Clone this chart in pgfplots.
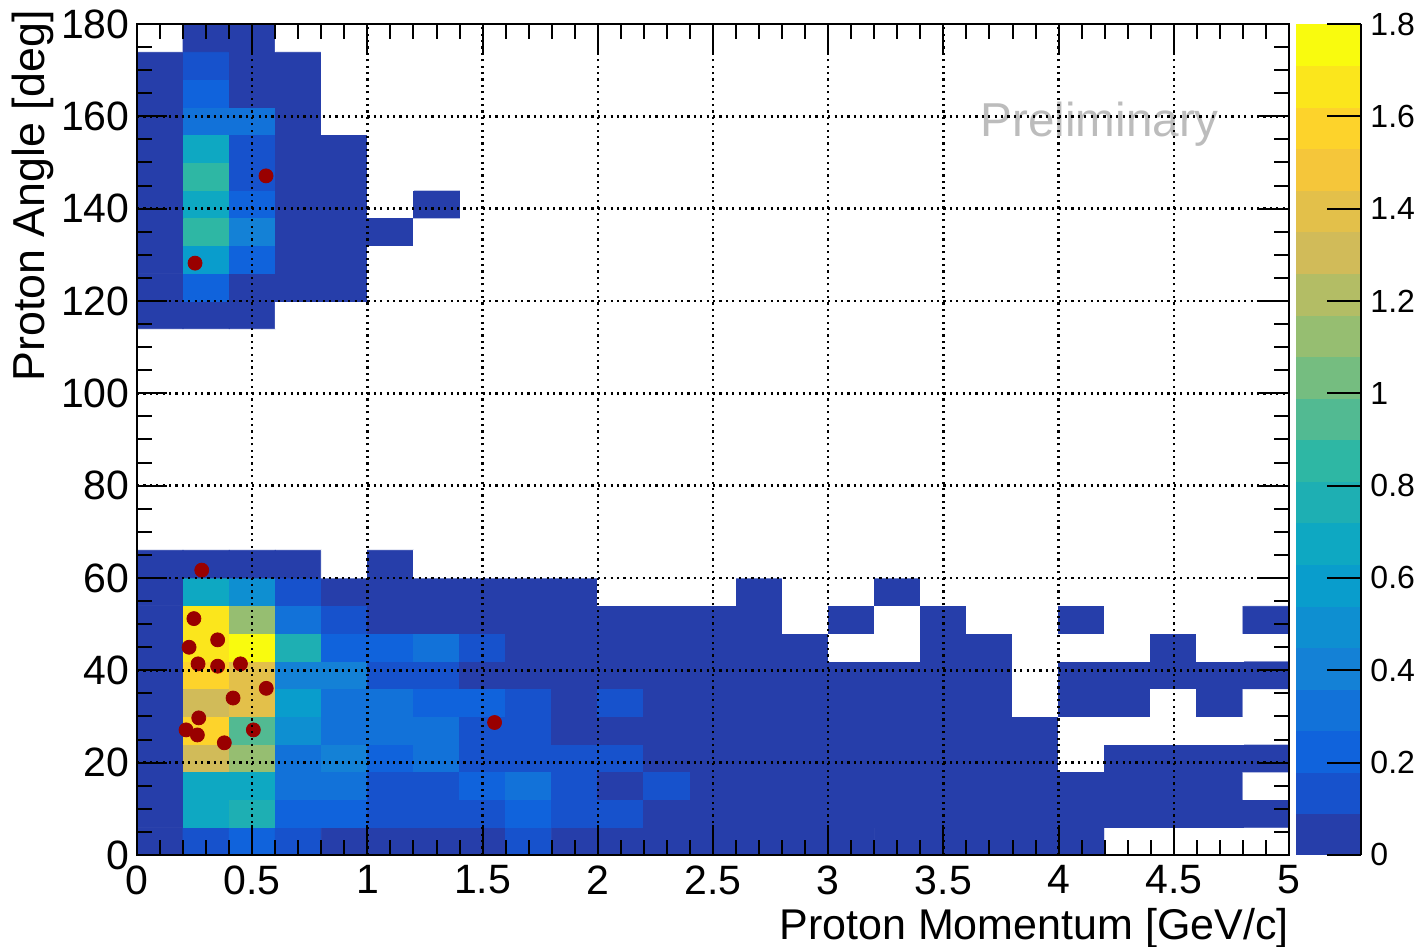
\documentclass[border=0pt]{standalone}
\usepackage{fontspec}
\setmainfont{Liberation Sans}
\usepackage{pgfplots}
\pgfplotsset{compat=1.18}
\definecolor{darkred}{RGB}{153,0,0}
\definecolor{prelim}{RGB}{188,188,188}
\begin{document}
\begin{tikzpicture}
\begin{axis}[
  set layers=axis on top, axis on top,
  scale only axis, width=576pt, height=415.5pt,
  xmin=0, xmax=5, ymin=0, ymax=180,
  xtick={0,0.5,1,1.5,2,2.5,3,3.5,4,4.5,5},
  ytick={0,20,40,60,80,100,120,140,160,180},
  minor x tick num=4, minor y tick num=3,
  tick align=inside, tick pos=both,
  major tick length=15pt, minor tick length=7.5pt,
  every tick/.append style={black, line width=1pt},
  axis line style={line width=1pt},
  grid=major,
  major grid style={black, line width=1.2pt, dash pattern=on 1.1pt off 2.1pt},
  /pgf/number format/assume math mode=true,
  ticklabel style={font=\fontsize{20.5}{24}\selectfont},
  xticklabel style={inner sep=0pt, yshift=-5pt},
  yticklabel style={inner sep=0pt, xshift=-3.5pt},
  xlabel={Proton Momentum [GeV/c]},
  ylabel={Proton Angle [deg]},
  label style={inner sep=0pt},
  xlabel style={font=\fontsize{21.5}{26}\selectfont, at={(axis description cs:1,-0.0638)}, anchor=north east},
  ylabel style={font=\fontsize{22.4}{27}\selectfont, at={(axis description cs:-0.1085,1.0168)}, anchor=north east},
  colormap={birdw}{rgb255(0cm)=(255,255,255) rgb255(1cm)=(38,62,170) rgb255(2cm)=(23,82,204) rgb255(3cm)=(16,99,220) rgb255(4cm)=(18,114,217) rgb255(5cm)=(20,129,214) rgb255(6cm)=(14,143,209) rgb255(7cm)=(9,157,204) rgb255(8cm)=(14,168,194) rgb255(9cm)=(30,175,179) rgb255(10cm)=(46,183,164) rgb255(11cm)=(82,186,146) rgb255(12cm)=(117,189,128) rgb255(13cm)=(150,190,113) rgb255(14cm)=(179,189,101) rgb255(15cm)=(209,187,89) rgb255(16cm)=(227,192,74) rgb255(17cm)=(245,198,58) rgb255(18cm)=(253,211,43) rgb255(19cm)=(251,230,28) rgb255(20cm)=(249,251,14) rgb255(21cm)=(249,251,14)},
  colormap access=piecewise constant,
  point meta min=-0.09, point meta max=1.8,
  colorbar,
  colorbar style={
    at={(parent axis.north east)}, anchor=north west, xshift=-5pt,
    width=32.5pt,
    ymin=0, ymax=1.8,
    ytick={0,0.2,0.4,0.6,0.8,1,1.2,1.4,1.6,1.8},
    minor y tick num=0,
    yticklabel pos=right, ytick pos=right,
    ytick align=inside,
    major tick length=17pt,
    every tick/.append style={black, line width=1pt},
    axis line style={draw=none},
    extra description/.code={\draw[line width=1pt] (rel axis cs:1,0) -- (rel axis cs:1,1);},
    /pgf/number format/assume math mode=true,
    yticklabel style={font=\fontsize{16}{19}\selectfont, inner sep=0pt, xshift=4.5pt, anchor=west},
  },
]
% lower block: 25 x 11 bins
\addplot[matrix plot*, mesh/cols=25, point meta=explicit] table[meta=c] {
x y c
0.1 3 0.05
0.3 3 0.14
0.5 3 0.23
0.7 3 0.14
0.9 3 0.05
1.1 3 0.05
1.3 3 0.05
1.5 3 0.05
1.7 3 0.14
1.9 3 0.05
2.1 3 0.05
2.3 3 0.05
2.5 3 0.05
2.7 3 0.05
2.9 3 0.05
3.1 3 0.05
3.3 3 0.05
3.5 3 0.05
3.7 3 0.05
3.9 3 0.05
4.1 3 0.05
4.3 3 -0.05
4.5 3 -0.05
4.7 3 -0.05
4.9 3 -0.05
0.1 9 0.05
0.3 9 0.68
0.5 9 0.77
0.7 9 0.23
0.9 9 0.23
1.1 9 0.14
1.3 9 0.14
1.5 9 0.14
1.7 9 0.23
1.9 9 0.14
2.1 9 0.14
2.3 9 0.05
2.5 9 0.05
2.7 9 0.05
2.9 9 0.05
3.1 9 0.05
3.3 9 0.05
3.5 9 0.05
3.7 9 0.05
3.9 9 0.05
4.1 9 0.05
4.3 9 0.05
4.5 9 0.05
4.7 9 0.05
4.9 9 0.05
0.1 15 0.05
0.3 15 0.68
0.5 15 0.68
0.7 15 0.32
0.9 15 0.32
1.1 15 0.14
1.3 15 0.14
1.5 15 0.23
1.7 15 0.32
1.9 15 0.14
2.1 15 0.05
2.3 15 0.14
2.5 15 0.05
2.7 15 0.05
2.9 15 0.05
3.1 15 0.05
3.3 15 0.05
3.5 15 0.05
3.7 15 0.05
3.9 15 0.05
4.1 15 0.05
4.3 15 0.05
4.5 15 0.05
4.7 15 0.05
4.9 15 -0.05
0.1 21 0.05
0.3 21 1.31
0.5 21 1.13
0.7 21 0.32
0.9 21 0.41
1.1 21 0.23
1.3 21 0.32
1.5 21 0.14
1.7 21 0.14
1.9 21 0.14
2.1 21 0.14
2.3 21 0.05
2.5 21 0.05
2.7 21 0.05
2.9 21 0.05
3.1 21 0.05
3.3 21 0.05
3.5 21 0.05
3.7 21 0.05
3.9 21 0.05
4.1 21 -0.05
4.3 21 0.05
4.5 21 0.05
4.7 21 0.05
4.9 21 0.05
0.1 27 0.05
0.3 27 1.58
0.5 27 0.95
0.7 27 0.5
0.9 27 0.32
1.1 27 0.32
1.3 27 0.32
1.5 27 0.14
1.7 27 0.14
1.9 27 0.05
2.1 27 0.05
2.3 27 0.05
2.5 27 0.05
2.7 27 0.05
2.9 27 0.05
3.1 27 0.05
3.3 27 0.05
3.5 27 0.05
3.7 27 0.05
3.9 27 0.05
4.1 27 -0.05
4.3 27 -0.05
4.5 27 -0.05
4.7 27 -0.05
4.9 27 -0.05
0.1 33 0.05
0.3 33 1.31
0.5 33 1.4
0.7 33 0.59
0.9 33 0.32
1.1 33 0.32
1.3 33 0.23
1.5 33 0.23
1.7 33 0.14
1.9 33 0.05
2.1 33 0.14
2.3 33 0.05
2.5 33 0.05
2.7 33 0.05
2.9 33 0.05
3.1 33 0.05
3.3 33 0.05
3.5 33 0.05
3.7 33 0.05
3.9 33 -0.05
4.1 33 0.05
4.3 33 0.05
4.5 33 -0.05
4.7 33 0.05
4.9 33 -0.05
0.1 39 0.05
0.3 39 1.58
0.5 39 1.4
0.7 39 0.41
0.9 39 0.41
1.1 39 0.14
1.3 39 0.14
1.5 39 0.05
1.7 39 0.05
1.9 39 0.05
2.1 39 0.05
2.3 39 0.05
2.5 39 0.05
2.7 39 0.05
2.9 39 0.05
3.1 39 0.05
3.3 39 0.05
3.5 39 0.05
3.7 39 0.05
3.9 39 -0.05
4.1 39 0.05
4.3 39 0.05
4.5 39 0.05
4.7 39 0.05
4.9 39 0.05
0.1 45 0.05
0.3 45 1.67
0.5 45 1.76
0.7 45 0.77
0.9 45 0.23
1.1 45 0.23
1.3 45 0.32
1.5 45 0.14
1.7 45 0.05
1.9 45 0.05
2.1 45 0.05
2.3 45 0.05
2.5 45 0.05
2.7 45 0.05
2.9 45 0.05
3.1 45 -0.05
3.3 45 -0.05
3.5 45 0.05
3.7 45 0.05
3.9 45 -0.05
4.1 45 -0.05
4.3 45 -0.05
4.5 45 0.05
4.7 45 -0.05
4.9 45 -0.05
0.1 51 0.05
0.3 51 1.67
0.5 51 1.13
0.7 51 0.32
0.9 51 0.14
1.1 51 0.05
1.3 51 0.05
1.5 51 0.05
1.7 51 0.05
1.9 51 0.05
2.1 51 0.05
2.3 51 0.05
2.5 51 0.05
2.7 51 0.05
2.9 51 -0.05
3.1 51 0.05
3.3 51 -0.05
3.5 51 0.05
3.7 51 -0.05
3.9 51 -0.05
4.1 51 0.05
4.3 51 -0.05
4.5 51 -0.05
4.7 51 -0.05
4.9 51 0.05
0.1 57 0.05
0.3 57 0.68
0.5 57 0.5
0.7 57 0.14
0.9 57 0.05
1.1 57 0.05
1.3 57 0.05
1.5 57 0.05
1.7 57 0.05
1.9 57 0.05
2.1 57 -0.05
2.3 57 -0.05
2.5 57 -0.05
2.7 57 0.05
2.9 57 -0.05
3.1 57 -0.05
3.3 57 0.05
3.5 57 -0.05
3.7 57 -0.05
3.9 57 -0.05
4.1 57 -0.05
4.3 57 -0.05
4.5 57 -0.05
4.7 57 -0.05
4.9 57 -0.05
0.1 63 0.05
0.3 63 0.05
0.5 63 0.05
0.7 63 0.05
0.9 63 -0.05
1.1 63 0.05
1.3 63 -0.05
1.5 63 -0.05
1.7 63 -0.05
1.9 63 -0.05
2.1 63 -0.05
2.3 63 -0.05
2.5 63 -0.05
2.7 63 -0.05
2.9 63 -0.05
3.1 63 -0.05
3.3 63 -0.05
3.5 63 -0.05
3.7 63 -0.05
3.9 63 -0.05
4.1 63 -0.05
4.3 63 -0.05
4.5 63 -0.05
4.7 63 -0.05
4.9 63 -0.05
};
% upper block: 7 x 11 bins
\addplot[matrix plot*, mesh/cols=7, point meta=explicit] table[meta=c] {
x y c
0.1 117 0.05
0.3 117 0.05
0.5 117 0.05
0.7 117 -0.05
0.9 117 -0.05
1.1 117 -0.05
1.3 117 -0.05
0.1 123 0.05
0.3 123 0.23
0.5 123 0.05
0.7 123 0.05
0.9 123 0.05
1.1 123 -0.05
1.3 123 -0.05
0.1 129 0.05
0.3 129 0.59
0.5 129 0.23
0.7 129 0.05
0.9 129 0.05
1.1 129 -0.05
1.3 129 -0.05
0.1 135 0.05
0.3 135 0.86
0.5 135 0.41
0.7 135 0.05
0.9 135 0.05
1.1 135 0.05
1.3 135 -0.05
0.1 141 0.05
0.3 141 0.68
0.5 141 0.23
0.7 141 0.05
0.9 141 0.05
1.1 141 -0.05
1.3 141 0.05
0.1 147 0.05
0.3 147 0.86
0.5 147 0.14
0.7 147 0.05
0.9 147 0.05
1.1 147 -0.05
1.3 147 -0.05
0.1 153 0.05
0.3 153 0.68
0.5 153 0.14
0.7 153 0.05
0.9 153 0.05
1.1 153 -0.05
1.3 153 -0.05
0.1 159 0.05
0.3 159 0.32
0.5 159 0.32
0.7 159 0.05
0.9 159 -0.05
1.1 159 -0.05
1.3 159 -0.05
0.1 165 0.05
0.3 165 0.23
0.5 165 0.05
0.7 165 0.05
0.9 165 -0.05
1.1 165 -0.05
1.3 165 -0.05
0.1 171 0.05
0.3 171 0.14
0.5 171 0.05
0.7 171 0.05
0.9 171 -0.05
1.1 171 -0.05
1.3 171 -0.05
0.1 177 -0.05
0.3 177 0.05
0.5 177 0.05
0.7 177 -0.05
0.9 177 -0.05
1.1 177 -0.05
1.3 177 -0.05
};
\addplot[only marks, mark=*, mark size=3.5pt, color=darkred, mark options={fill=darkred, draw=darkred}, on layer=axis foreground] coordinates {
(0.56,147.1) (0.252,128.2) (0.281,61.7) (0.247,51.2) (0.350,46.6) (0.226,45.0)
(0.265,41.4) (0.350,40.9) (0.449,41.4) (0.561,36.1) (0.417,34.0) (0.268,29.7)
(0.213,27.1) (0.262,26.0) (0.505,27.1) (0.379,24.3) (1.552,28.7)
};
\node[anchor=base west, inner sep=0pt, text=prelim, font=\fontsize{23.8}{28}\selectfont] at (axis cs:3.66,155.7) {Preliminary};
\end{axis}
\pgfresetboundingbox
\useasboundingbox (-68.5pt,-46pt) rectangle (643.5pt,427.5pt);
\end{tikzpicture}
\end{document}
